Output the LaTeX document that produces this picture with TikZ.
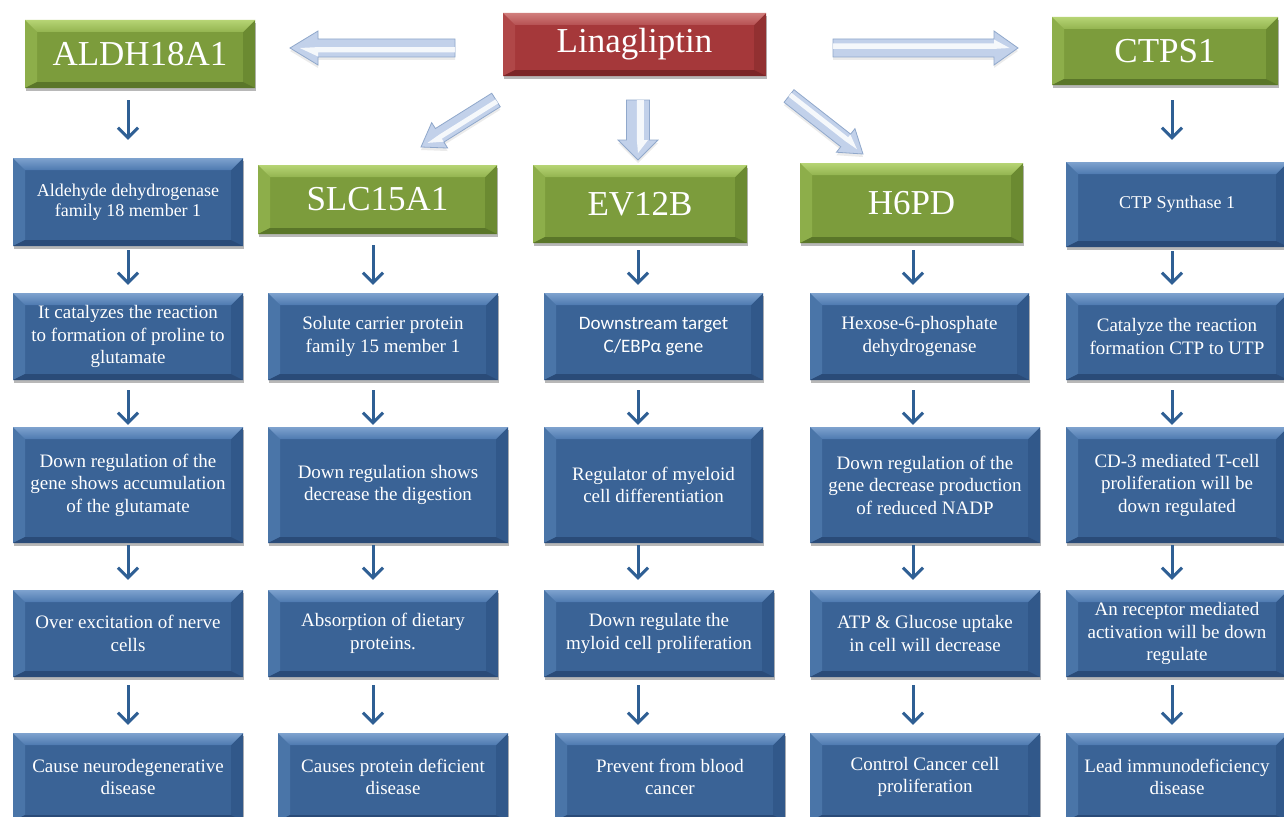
\documentclass[tikz,border=0pt]{standalone}
\usepackage{fontspec}
\setmainfont{Liberation Serif}
\newfontfamily\calfont{Carlito}
\usetikzlibrary{arrows.meta,calc,shadows}

% face / bevel colours of the three kinds of boxes
\definecolor{bface}{HTML}{3A6396}
\definecolor{btopA}{HTML}{7EA2CE}
\definecolor{btopB}{HTML}{4E7AB0}
\definecolor{bleft}{HTML}{4A75A8}
\definecolor{bright}{HTML}{31588A}
\definecolor{bbot}{HTML}{2A4B78}

\definecolor{gface}{HTML}{7C9C3C}
\definecolor{gtopA}{HTML}{B6D474}
\definecolor{gtopB}{HTML}{93B450}
\definecolor{gleft}{HTML}{8DAE4A}
\definecolor{gright}{HTML}{6B8A31}
\definecolor{gbot}{HTML}{5A7629}

\definecolor{rface}{HTML}{A5383A}
\definecolor{rtopA}{HTML}{D07E7C}
\definecolor{rtopB}{HTML}{B65052}
\definecolor{rleft}{HTML}{B04748}
\definecolor{rright}{HTML}{923031}
\definecolor{rbot}{HTML}{7B2527}

\definecolor{darrow}{HTML}{2F5F94}
\definecolor{fatfill}{HTML}{C2D1EA}
\definecolor{fatedge}{HTML}{90A8CB}

% bevelled face: #1/#2 top strip shading, #3 left, #4 right, #5 bottom
\newcommand\bevelparts[5]{%
  \path (path picture bounding box.north west) coordinate (pNW)
        (path picture bounding box.north east) coordinate (pNE)
        (path picture bounding box.south west) coordinate (pSW)
        (path picture bounding box.south east) coordinate (pSE)
        ([xshift=12pt,yshift=-12pt]pNW) coordinate (iNW)
        ([xshift=-12pt,yshift=-12pt]pNE) coordinate (iNE)
        ([xshift=12pt,yshift=6pt]pSW) coordinate (iSW)
        ([xshift=-12pt,yshift=6pt]pSE) coordinate (iSE);
  \fill[#3] (pNW) -- (iNW) -- (iSW) -- (pSW) -- cycle;
  \fill[#4] (pNE) -- (iNE) -- (iSE) -- (pSE) -- cycle;
  \fill[#5] (pSW) -- (iSW) -- (iSE) -- (pSE) -- cycle;
  \shade[top color=#1, bottom color=#2] (pNW) -- (pNE) -- (iNE) -- (iNW) -- cycle;
}

% light 3-D block arrow from #1 (tail) to #2 (tip);
% #3 shaft half width, #4 head half width, #5 head length
\newcommand\fatarrow[5]{%
  \coordinate (fH) at ($(#2)!#5!(#1)$);
  \fill[black, opacity=0.08]
    ([yshift=-3pt]$(#1)!#3!90:(#2)$) -- ([yshift=-3pt]$(fH)!#3!90:(#2)$) --
    ([yshift=-3pt]$(fH)!#4!90:(#2)$) -- ([yshift=-3pt]#2) --
    ([yshift=-3pt]$(fH)!#4!-90:(#2)$) -- ([yshift=-3pt]$(fH)!#3!-90:(#2)$) --
    ([yshift=-3pt]$(#1)!#3!-90:(#2)$) -- cycle;
  \filldraw[fill=fatfill, draw=fatedge, line width=0.8pt, line join=miter]
    ($(#1)!#3!90:(#2)$) -- ($(fH)!#3!90:(#2)$) -- ($(fH)!#4!90:(#2)$) -- (#2) --
    ($(fH)!#4!-90:(#2)$) -- ($(fH)!#3!-90:(#2)$) -- ($(#1)!#3!-90:(#2)$) -- cycle;
  \fill[white, opacity=0.85]
    ($(#1)!0.5*#3!90:(#2)$) -- ($(fH)!0.5*#3!90:(#2)$) --
    ($(fH)!0.5*#4!90:(#2)$) -- ($(#2)!0.35*#5!(#1)$) --
    ($(fH)!-0.1*#3!90:(#2)$) -- ($(#1)!-0.1*#3!90:(#2)$) -- cycle;
}

\tikzset{
  sz/.style 2 args={minimum width=#1pt, minimum height=#2pt},
  base/.style={rectangle, inner sep=0pt, align=center, text=white,
    drop shadow={shadow xshift=1pt, shadow yshift=-3pt, opacity=0.28, fill=black}},
  bluebox/.style={base, fill=bface,
    path picture={\bevelparts{btopA}{btopB}{bleft}{bright}{bbot}},
    font=\fontsize{19pt}{22.5pt}\selectfont},
  smalltxt/.style={font=\fontsize{18pt}{20.5pt}\selectfont},
  sanstxt/.style={font=\calfont\fontsize{19pt}{23pt}\selectfont},
  greenbox/.style={base, fill=gface,
    path picture={\bevelparts{gtopA}{gtopB}{gleft}{gright}{gbot}},
    font=\fontsize{35pt}{40pt}\selectfont},
  redbox/.style={base, fill=rface,
    path picture={\bevelparts{rtopA}{rtopB}{rleft}{rright}{rbot}},
    font=\fontsize{35pt}{40pt}\selectfont},
  darr/.style={draw=darrow, line width=3pt,
    -{Straight Barb[length=10pt,width=20pt,line width=3pt]},
    shorten <=6pt, shorten >=7pt},
}

\begin{document}
\begin{tikzpicture}[x=1pt, y=-1pt]
\useasboundingbox (0,0) rectangle (1284,816);
\clip (0,0) rectangle (1284,816);
\fill[white] (0,0) rectangle (1284,816);

% drug
\node[redbox, sz={263}{63}] (lin) at (634.5,44.5) {\raisebox{-2pt}{Linagliptin}};

% target genes
\node[greenbox, sz={230}{68}] (a0) at (140,54) {\raisebox{-2pt}{ALDH18A1}};
\node[greenbox, sz={239}{69}] (b0) at (377.5,199.5) {\raisebox{-2pt}{SLC15A1}};
\node[greenbox, sz={214}{78}] (c0) at (640,204) {\raisebox{-2pt}{EV12B}};
\node[greenbox, sz={223}{80}] (d0) at (911.5,203) {\raisebox{-2pt}{H6PD}};
\node[greenbox, sz={226}{68}] (e0) at (1165,51) {\raisebox{-2pt}{CTPS1}};

% ALDH18A1 column
\node[bluebox, smalltxt, sz={230}{88}] (a1) at (128,202) {Aldehyde dehydrogenase\\family 18 member 1};
\node[bluebox, sz={230}{87}] (a2) at (128,336.5) {It catalyzes the reaction\\to formation of proline to\\glutamate};
\node[bluebox, sz={230}{116}] (a3) at (128,485) {Down regulation of the\\gene shows accumulation\\of the glutamate};
\node[bluebox, sz={230}{87}] (a4) at (128,633.5) {Over excitation of nerve\\cells};
\node[bluebox, sz={230}{88}] (a5) at (128,777) {Cause neurodegenerative\\disease};

% SLC15A1 column
\node[bluebox, sz={230}{87}] (b2) at (383,336.5) {Solute carrier protein\\family 15 member 1};
\node[bluebox, sz={240}{116}] (b3) at (388,485) {Down regulation shows\\decrease the digestion};
\node[bluebox, sz={230}{87}] (b4) at (383,633.5) {Absorption of dietary\\proteins.};
\node[bluebox, sz={230}{88}] (b5) at (393,777) {Causes protein deficient\\disease};

% EV12B column
\node[bluebox, sanstxt, sz={219}{87}] (c2) at (653.5,336.5) {Downstream target\\C/EBPα gene};
\node[bluebox, sz={219}{116}] (c3) at (653.5,485) {Regulator of myeloid\\cell differentiation};
\node[bluebox, sz={230}{87}] (c4) at (659,633.5) {Down regulate the\\myloid cell proliferation};
\node[bluebox, sz={230}{88}] (c5) at (670,777) {Prevent from blood\\cancer};

% H6PD column
\node[bluebox, sz={219}{87}] (d2) at (919.5,336.5) {Hexose-6-phosphate\\dehydrogenase};
\node[bluebox, sz={230}{116}] (d3) at (925,485) {Down regulation of the\\gene decrease production\\of reduced NADP};
\node[bluebox, sz={230}{87}] (d4) at (925,633.5) {ATP \& Glucose uptake\\in cell will decrease};
\node[bluebox, sz={230}{88}] (d5) at (925,777) {Control Cancer cell\\proliferation};

% CTPS1 column
\node[bluebox, smalltxt, sz={222}{85}] (e1) at (1177,204.5) {CTP Synthase 1};
\node[bluebox, sz={222}{87}] (e2) at (1177,336.5) {Catalyze the reaction\\formation CTP to UTP};
\node[bluebox, sz={222}{116}] (e3) at (1177,485) {CD-3 mediated T-cell\\proliferation will be\\down regulated};
\node[bluebox, sz={222}{87}] (e4) at (1177,633.5) {An receptor mediated\\activation will be down\\regulate};
\node[bluebox, sz={222}{88}] (e5) at (1177,777) {Lead immunodeficiency\\disease};

% block arrows leaving the drug
\coordinate (fl0) at (455,48);  \coordinate (fl1) at (290,48);
\coordinate (fr0) at (833,48);  \coordinate (fr1) at (1018,48);
\coordinate (fd0) at (638,100); \coordinate (fd1) at (638,160);
\coordinate (fa0) at (496,100); \coordinate (fa1) at (421,147);
\coordinate (fb0) at (789,96);  \coordinate (fb1) at (863,154);
\fatarrow{fl0}{fl1}{9pt}{17pt}{28pt}
\fatarrow{fr0}{fr1}{9pt}{17pt}{24pt}
\fatarrow{fd0}{fd1}{11.5pt}{20pt}{20pt}
\fatarrow{fa0}{fa1}{8pt}{15pt}{22pt}
\fatarrow{fb0}{fb1}{8pt}{15pt}{22pt}

% column lines for the small arrows
\coordinate (x1) at (128,0);
\coordinate (x2) at (373,0);
\coordinate (x3) at (638,0);
\coordinate (x4) at (913,0);
\coordinate (x5) at (1172,0);

\draw[darr, shorten <=12pt, shorten >=18pt] (a0.south -| x1) -- (a1.north -| x1);
\draw[darr, shorten <=4pt, shorten >=8pt] (a1.south -| x1) -- (a2.north -| x1);
\draw[darr, shorten <=10pt, shorten >=2pt] (a2.south -| x1) -- (a3.north -| x1);
\draw[darr, shorten <=2pt, shorten >=10pt] (a3.south -| x1) -- (a4.north -| x1);
\draw[darr, shorten <=8pt, shorten >=8pt] (a4.south -| x1) -- (a5.north -| x1);

\draw[darr, shorten <=11pt, shorten >=8pt] (b0.south -| x2) -- (b2.north -| x2);
\draw[darr, shorten <=10pt, shorten >=2pt] (b2.south -| x2) -- (b3.north -| x2);
\draw[darr, shorten <=2pt, shorten >=10pt] (b3.south -| x2) -- (b4.north -| x2);
\draw[darr, shorten <=8pt, shorten >=8pt] (b4.south -| x2) -- (b5.north -| x2);

\draw[darr, shorten <=7pt, shorten >=8pt] (c0.south -| x3) -- (c2.north -| x3);
\draw[darr, shorten <=10pt, shorten >=2pt] (c2.south -| x3) -- (c3.north -| x3);
\draw[darr, shorten <=2pt, shorten >=10pt] (c3.south -| x3) -- (c4.north -| x3);
\draw[darr, shorten <=8pt, shorten >=8pt] (c4.south -| x3) -- (c5.north -| x3);

\draw[darr, shorten <=7pt, shorten >=8pt] (d0.south -| x4) -- (d2.north -| x4);
\draw[darr, shorten <=10pt, shorten >=2pt] (d2.south -| x4) -- (d3.north -| x4);
\draw[darr, shorten <=2pt, shorten >=10pt] (d3.south -| x4) -- (d4.north -| x4);
\draw[darr, shorten <=8pt, shorten >=8pt] (d4.south -| x4) -- (d5.north -| x4);

\draw[darr, shorten <=15pt, shorten >=22pt] (e0.south -| x5) -- (e1.north -| x5);
\draw[darr, shorten <=4pt, shorten >=8pt] (e1.south -| x5) -- (e2.north -| x5);
\draw[darr, shorten <=10pt, shorten >=2pt] (e2.south -| x5) -- (e3.north -| x5);
\draw[darr, shorten <=2pt, shorten >=10pt] (e3.south -| x5) -- (e4.north -| x5);
\draw[darr, shorten <=8pt, shorten >=8pt] (e4.south -| x5) -- (e5.north -| x5);
\end{tikzpicture}
\end{document}
